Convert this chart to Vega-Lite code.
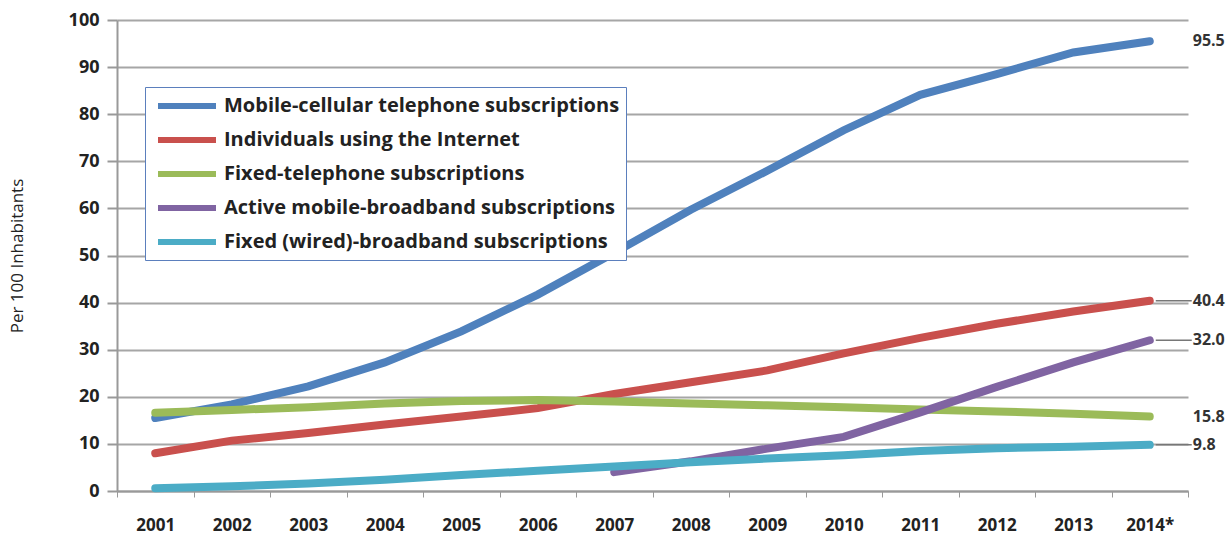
{
  "$schema": "https://vega.github.io/schema/vega-lite/v6.json",
  "width": 1071,
  "height": 471,
  "autosize": {"type": "none"},
  "padding": {"left": 117, "top": 20, "right": 43, "bottom": 52},
  "background": "white",
  "config": {
    "font": "Open Sans",
    "view": {"stroke": null},
    "axis": {"labelFont": "Open Sans", "labelFontWeight": "bold", "labelColor": "#222", "titleFont": "Open Sans"}
  },
  "data": {
    "values": [
      {"year": "2001", "series": "Mobile-cellular telephone subscriptions", "value": 15.5},
      {"year": "2002", "series": "Mobile-cellular telephone subscriptions", "value": 18.4},
      {"year": "2003", "series": "Mobile-cellular telephone subscriptions", "value": 22.2},
      {"year": "2004", "series": "Mobile-cellular telephone subscriptions", "value": 27.3},
      {"year": "2005", "series": "Mobile-cellular telephone subscriptions", "value": 33.9},
      {"year": "2006", "series": "Mobile-cellular telephone subscriptions", "value": 41.7},
      {"year": "2007", "series": "Mobile-cellular telephone subscriptions", "value": 50.6},
      {"year": "2008", "series": "Mobile-cellular telephone subscriptions", "value": 59.7},
      {"year": "2009", "series": "Mobile-cellular telephone subscriptions", "value": 68.0},
      {"year": "2010", "series": "Mobile-cellular telephone subscriptions", "value": 76.6},
      {"year": "2011", "series": "Mobile-cellular telephone subscriptions", "value": 84.1},
      {"year": "2012", "series": "Mobile-cellular telephone subscriptions", "value": 88.5},
      {"year": "2013", "series": "Mobile-cellular telephone subscriptions", "value": 93.1},
      {"year": "2014*", "series": "Mobile-cellular telephone subscriptions", "value": 95.5},
      {"year": "2001", "series": "Individuals using the Internet", "value": 8.0},
      {"year": "2002", "series": "Individuals using the Internet", "value": 10.7},
      {"year": "2003", "series": "Individuals using the Internet", "value": 12.3},
      {"year": "2004", "series": "Individuals using the Internet", "value": 14.1},
      {"year": "2005", "series": "Individuals using the Internet", "value": 15.8},
      {"year": "2006", "series": "Individuals using the Internet", "value": 17.6},
      {"year": "2007", "series": "Individuals using the Internet", "value": 20.6},
      {"year": "2008", "series": "Individuals using the Internet", "value": 23.1},
      {"year": "2009", "series": "Individuals using the Internet", "value": 25.6},
      {"year": "2010", "series": "Individuals using the Internet", "value": 29.2},
      {"year": "2011", "series": "Individuals using the Internet", "value": 32.5},
      {"year": "2012", "series": "Individuals using the Internet", "value": 35.5},
      {"year": "2013", "series": "Individuals using the Internet", "value": 38.1},
      {"year": "2014*", "series": "Individuals using the Internet", "value": 40.4},
      {"year": "2001", "series": "Fixed-telephone subscriptions", "value": 16.6},
      {"year": "2002", "series": "Fixed-telephone subscriptions", "value": 17.2},
      {"year": "2003", "series": "Fixed-telephone subscriptions", "value": 17.8},
      {"year": "2004", "series": "Fixed-telephone subscriptions", "value": 18.6},
      {"year": "2005", "series": "Fixed-telephone subscriptions", "value": 19.1},
      {"year": "2006", "series": "Fixed-telephone subscriptions", "value": 19.3},
      {"year": "2007", "series": "Fixed-telephone subscriptions", "value": 19.0},
      {"year": "2008", "series": "Fixed-telephone subscriptions", "value": 18.6},
      {"year": "2009", "series": "Fixed-telephone subscriptions", "value": 18.2},
      {"year": "2010", "series": "Fixed-telephone subscriptions", "value": 17.8},
      {"year": "2011", "series": "Fixed-telephone subscriptions", "value": 17.3},
      {"year": "2012", "series": "Fixed-telephone subscriptions", "value": 16.9},
      {"year": "2013", "series": "Fixed-telephone subscriptions", "value": 16.4},
      {"year": "2014*", "series": "Fixed-telephone subscriptions", "value": 15.8},
      {"year": "2007", "series": "Active mobile-broadband subscriptions", "value": 4.0},
      {"year": "2008", "series": "Active mobile-broadband subscriptions", "value": 6.3},
      {"year": "2009", "series": "Active mobile-broadband subscriptions", "value": 9.0},
      {"year": "2010", "series": "Active mobile-broadband subscriptions", "value": 11.5},
      {"year": "2011", "series": "Active mobile-broadband subscriptions", "value": 16.7},
      {"year": "2012", "series": "Active mobile-broadband subscriptions", "value": 22.1},
      {"year": "2013", "series": "Active mobile-broadband subscriptions", "value": 27.3},
      {"year": "2014*", "series": "Active mobile-broadband subscriptions", "value": 32.0},
      {"year": "2001", "series": "Fixed (wired)-broadband subscriptions", "value": 0.6},
      {"year": "2002", "series": "Fixed (wired)-broadband subscriptions", "value": 1.0},
      {"year": "2003", "series": "Fixed (wired)-broadband subscriptions", "value": 1.6},
      {"year": "2004", "series": "Fixed (wired)-broadband subscriptions", "value": 2.4},
      {"year": "2005", "series": "Fixed (wired)-broadband subscriptions", "value": 3.4},
      {"year": "2006", "series": "Fixed (wired)-broadband subscriptions", "value": 4.3},
      {"year": "2007", "series": "Fixed (wired)-broadband subscriptions", "value": 5.2},
      {"year": "2008", "series": "Fixed (wired)-broadband subscriptions", "value": 6.1},
      {"year": "2009", "series": "Fixed (wired)-broadband subscriptions", "value": 6.9},
      {"year": "2010", "series": "Fixed (wired)-broadband subscriptions", "value": 7.6},
      {"year": "2011", "series": "Fixed (wired)-broadband subscriptions", "value": 8.5},
      {"year": "2012", "series": "Fixed (wired)-broadband subscriptions", "value": 9.1},
      {"year": "2013", "series": "Fixed (wired)-broadband subscriptions", "value": 9.4},
      {"year": "2014*", "series": "Fixed (wired)-broadband subscriptions", "value": 9.8}
    ]
  },
  "encoding": {
    "x": {
      "field": "year", "type": "ordinal", "sort": null, "bandPosition": 0.5,
      "scale": {"type": "band", "paddingInner": 0, "paddingOuter": 0},
      "axis": {
        "title": null, "labelAngle": 0, "labelFontSize": 17, "labelPadding": 20,
        "tickBand": "extent", "tickSize": 6, "tickColor": "#999",
        "domainColor": "#999", "domainWidth": 2, "grid": false
      }
    },
    "y": {
      "field": "value", "type": "quantitative",
      "scale": {"domain": [0, 100], "nice": false},
      "axis": {
        "title": "Per 100 Inhabitants", "titleFontSize": 17, "titleFontWeight": "normal",
        "titleColor": "#222", "titlePadding": 42,
        "values": [0, 10, 20, 30, 40, 50, 60, 70, 80, 90, 100],
        "labelFontSize": 18, "labelPadding": 8, "tickSize": 10, "tickColor": "#999",
        "tickWidth": 2, "domainColor": "#999", "domainWidth": 2,
        "grid": true, "gridColor": "#a6a6a6", "gridWidth": 2
      }
    }
  },
  "layer": [
    {
      "mark": {"type": "line", "strokeWidth": 8, "strokeCap": "round"},
      "encoding": {
        "color": {
          "field": "series", "type": "nominal",
          "scale": {
            "domain": ["Mobile-cellular telephone subscriptions", "Individuals using the Internet", "Fixed-telephone subscriptions", "Active mobile-broadband subscriptions", "Fixed (wired)-broadband subscriptions"],
            "range": ["#4f81bd", "#c9504d", "#9bbb59", "#8064a2", "#4bacc6"]
          },
          "legend": {
            "title": null, "orient": "none", "legendX": 28, "legendY": 67,
            "symbolType": "M-0.6,0H5.2", "symbolSize": 400, "symbolStrokeWidth": 6,
            "labelFontSize": 20, "labelFontWeight": "bold", "labelColor": "#222", "labelFont": "Open Sans",
            "rowPadding": 9, "padding": 6, "labelOffset": 47,
            "strokeColor": "#5b7fbd", "fillColor": "white", "labelLimit": 500
          }
        },
        "detail": {"field": "series"}
      }
    },
    {
      "transform": [{"filter": "datum.year == '2014*' && (indexof(datum.series, 'Internet') >= 0 || indexof(datum.series, 'broadband') >= 0)"}],
      "mark": {"type": "rule", "color": "#777", "strokeWidth": 1.5, "xOffset": 6, "x2Offset": 42},
      "encoding": {
        "x2": {"field": "year", "bandPosition": 0.5}
      }
    },
    {
      "transform": [{"filter": "datum.year == '2014*'"}],
      "mark": {"type": "text", "align": "left", "dx": 43, "fontSize": 16, "fontWeight": "bold", "color": "#333", "font": "Open Sans"},
      "encoding": {
        "text": {"field": "value", "type": "quantitative", "format": ".1f"}
      }
    }
  ]
}
